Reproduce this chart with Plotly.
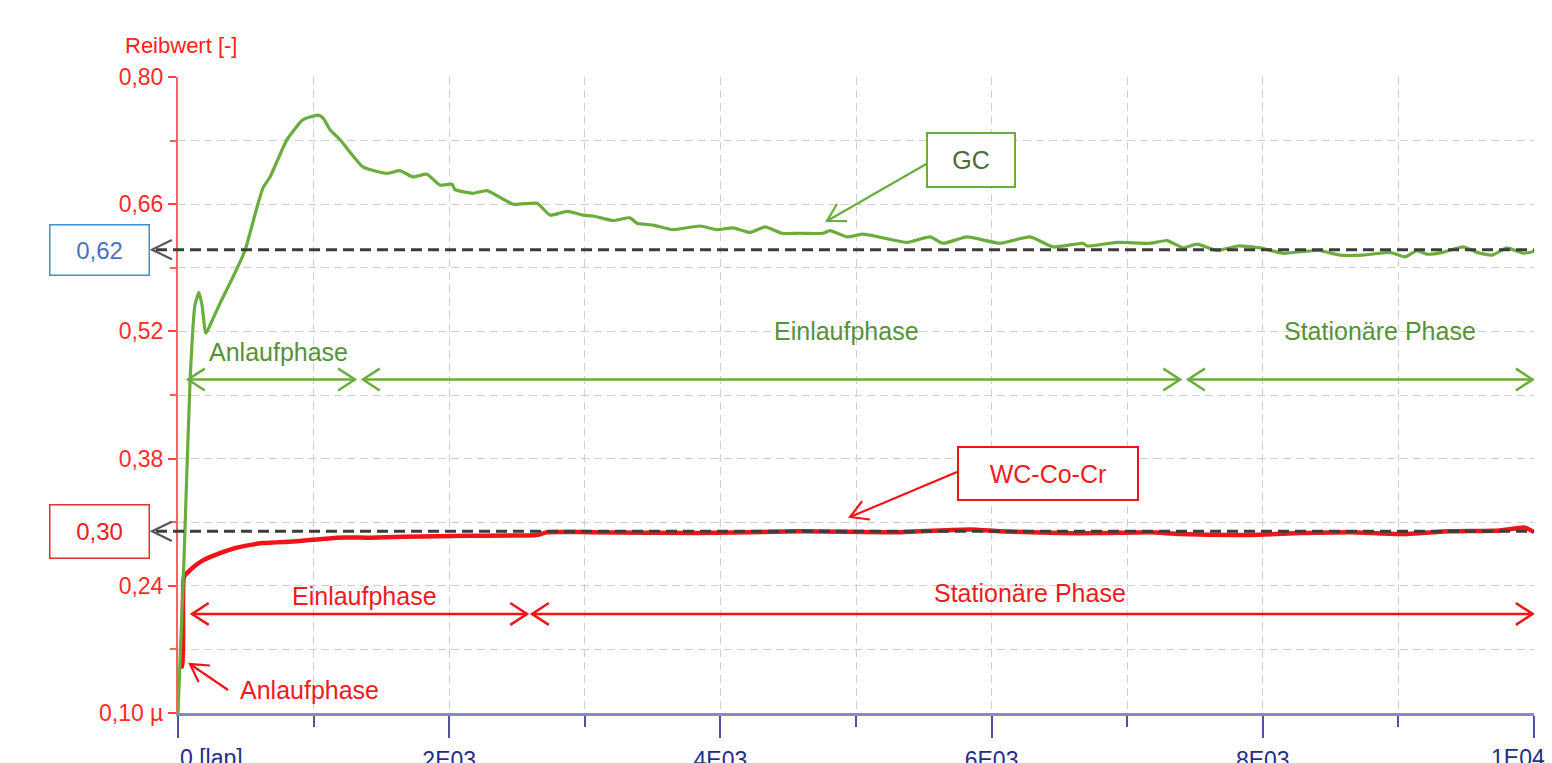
import math
import plotly.graph_objects as go

# ---------------- data ----------------
lap_gc = [0, 44, 89, 125, 155, 177, 206, 258, 310, 406,
          494, 583, 627, 679, 804, 922, 1033, 1069, 1121, 1195,
          1364, 1541, 1637, 1733, 1836, 1932, 2021, 2043, 2176, 2279,
          2471, 2648, 2744, 2869, 2987, 3061, 3208, 3334, 3385, 3503,
          3651, 3850, 3975, 4093, 4219, 4329, 4455, 4587, 4757, 4809,
          4934, 5052, 5199, 5376, 5546, 5642, 5819, 6062, 6284, 6453,
          6674, 6704, 6925, 7168, 7294, 7412, 7515, 7663, 7818, 7980,
          8149, 8297, 8422, 8570, 8739, 8938, 9049, 9137, 9211, 9329,
          9477, 9580, 9691, 9801, 9919, 10000]
mu_gc = [0.100, 0.268, 0.466, 0.549, 0.563, 0.549, 0.518, 0.534, 0.551, 0.580,
         0.609, 0.657, 0.678, 0.690, 0.731, 0.753, 0.758, 0.755, 0.742, 0.731,
         0.701, 0.694, 0.697, 0.690, 0.693, 0.681, 0.682, 0.676, 0.672, 0.675,
         0.660, 0.661, 0.648, 0.652, 0.648, 0.647, 0.642, 0.645, 0.639, 0.637,
         0.632, 0.636, 0.632, 0.634, 0.629, 0.635, 0.628, 0.628, 0.628, 0.631,
         0.624, 0.627, 0.623, 0.618, 0.624, 0.617, 0.624, 0.617, 0.624, 0.613,
         0.617, 0.614, 0.618, 0.617, 0.620, 0.612, 0.616, 0.609, 0.614, 0.612,
         0.606, 0.608, 0.609, 0.604, 0.604, 0.607, 0.602, 0.609, 0.605, 0.607,
         0.613, 0.607, 0.604, 0.612, 0.606, 0.608]

lap_wc = [10, 30, 37, 44, 74, 125, 184, 310, 435, 627,
          878, 1173, 1416, 1659, 2154, 2648, 2721, 3039, 3850, 4587,
          5325, 5841, 6062, 6505, 6800, 7168, 7390, 7906, 8275, 8643,
          9012, 9381, 9750, 9934, 10000]
mu_wc = [0.151, 0.151, 0.224, 0.250, 0.255, 0.262, 0.268, 0.276, 0.282, 0.287,
         0.289, 0.293, 0.293, 0.294, 0.295, 0.296, 0.299, 0.299, 0.298, 0.300,
         0.299, 0.302, 0.300, 0.298, 0.298, 0.299, 0.297, 0.296, 0.298, 0.299,
         0.297, 0.300, 0.301, 0.304, 0.299]

x_tickvals = [0, 2000, 4000, 6000, 8000, 10000]
x_ticktext = ["0 [lap]", "2E03", "4E03", "6E03", "8E03", "1E04"]
y_tickvals = [0.10, 0.24, 0.38, 0.52, 0.66, 0.80]
y_ticktext = ["0,10 µ", "0,24", "0,38", "0,52", "0,66", "0,80"]

ref_gc_pos, ref_gc_label = 0.61, "0,62"
ref_wc_pos, ref_wc_label = 0.30, "0,30"

# phase boundaries (laps)
gc_phases = [("Anlaufphase", 74, 1305), ("Einlaufphase", 1364, 7390), ("Stationäre Phase", 7449, 9990)]
wc_phases = [("Einlaufphase", 103, 2574), ("Stationäre Phase", 2611, 9990)]

# ---------------- geometry ----------------
W, H = 1552, 763
ML, MR, MT, MB = 178, 18, 77, 50
PW, PH = W - ML - MR, H - MT - MB
X0, X1 = 0, 10000
Y0, Y1 = 0.10, 0.80
SX = PW / (X1 - X0)
SY = PH / (Y1 - Y0)

GREEN = "#6aad3e"
GREEN_TXT = "#55923a"
RED = "#f01418"
RED_TXT = "#ee1c22"
GRID = "#cfcfcf"
NAVY = "#1f2d86"
FONT = "Liberation Sans, Arial, sans-serif"


def chevron(x, y, ux, uy, L=20, ang=33, paper=False):
    n = math.hypot(ux, uy)
    ux, uy = ux / n, uy / n
    pts = []
    for s in (1, -1):
        a = math.radians(ang * s)
        rx = ux * math.cos(a) - uy * math.sin(a)
        ry = ux * math.sin(a) + uy * math.cos(a)
        if paper:
            dx, dy = rx * L / PW, -ry * L / PH
        else:
            dx, dy = rx * L / SX, -ry * L / SY
        pts.append((x + dx, y + dy))
    return f"M{pts[0][0]},{pts[0][1]} L{x},{y} L{pts[1][0]},{pts[1][1]}"


shapes = []
annotations = []


def add_path(path, color, width, paper=False):
    shapes.append(dict(type="path", path=path, xref="paper" if paper else "x",
                       yref="paper" if paper else "y",
                       line=dict(color=color, width=width), layer="above"))


def double_arrow(xa, xb, y, color):
    shapes.append(dict(type="line", x0=xa, x1=xb, y0=y, y1=y, xref="x", yref="y",
                       line=dict(color=color, width=2.5), layer="above"))
    add_path(chevron(xa, y, 1, 0), color, 2.5)
    add_path(chevron(xb, y, -1, 0), color, 2.5)


def single_arrow(tail, tip, color):
    shapes.append(dict(type="line", x0=tail[0], y0=tail[1], x1=tip[0], y1=tip[1],
                       xref="x", yref="y", line=dict(color=color, width=2.2), layer="above"))
    ux = (tail[0] - tip[0]) * SX
    uy = -(tail[1] - tip[1]) * SY
    add_path(chevron(tip[0], tip[1], ux, uy, L=20, ang=30), color, 2.2)


# phase arrows
y_gc_ph = 0.467
y_wc_ph = 0.209
for _, a, b in gc_phases:
    double_arrow(a, b, y_gc_ph, GREEN)
for _, a, b in wc_phases:
    double_arrow(a, b, y_wc_ph, RED)

annotations += [
    dict(x=214, y=0.497, text="Anlaufphase", xanchor="left", font=dict(color=GREEN_TXT, size=25)),
    dict(x=4927, y=0.520, text="Einlaufphase", font=dict(color=GREEN_TXT, size=25)),
    dict(x=8865, y=0.520, text="Stationäre Phase", font=dict(color=GREEN_TXT, size=25)),
    dict(x=1372, y=0.2285, text="Einlaufphase", font=dict(color=RED_TXT, size=25)),
    dict(x=6283, y=0.2325, text="Stationäre Phase", font=dict(color=RED_TXT, size=25)),
    dict(x=440, y=0.125, text="Anlaufphase", xanchor="left", font=dict(color=RED_TXT, size=25)),
]
for a in annotations:
    a.update(xref="x", yref="y", showarrow=False, yanchor="middle")

# pointer arrows
single_arrow((369, 0.1253), (88, 0.1539), RED)
single_arrow((5531, 0.7053), (4786, 0.6415), GREEN)
single_arrow((5745, 0.3652), (4956, 0.3157), RED)

# label boxes
annotations.append(dict(x=5845, y=0.7086, xref="x", yref="y", text="GC", showarrow=False,
                        xanchor="center", yanchor="middle",
                        font=dict(color="#4c6a3a", size=25), bordercolor=GREEN, borderwidth=2,
                        borderpad=0, width=86, height=52, bgcolor="white"))
annotations.append(dict(x=6419, y=0.364, xref="x", yref="y", text="WC-Co-Cr", showarrow=False,
                        xanchor="center", yanchor="middle",
                        font=dict(color=RED_TXT, size=25), bordercolor=RED, borderwidth=2,
                        borderpad=0, width=178, height=51, bgcolor="white"))


def px_x(p):
    return (p - ML) / PW


def val_y(v):
    return (v - Y0) / (Y1 - Y0)


# reference lines with "<" arrows and value boxes
for pos, label, col, txtcol in [(ref_gc_pos, ref_gc_label, "#3b8fd4", "#4a70c0"),
                                (ref_wc_pos, ref_wc_label, "#e03030", RED_TXT)]:
    yp = val_y(pos)
    shapes.append(dict(type="line", xref="paper", yref="paper", x0=px_x(156), x1=1.0,
                       y0=yp, y1=yp, line=dict(color="#3c3c3c", width=3, dash="11px,6px"),
                       layer="above"))
    add_path(chevron(px_x(152), yp, 1, 0, L=22, ang=26, paper=True), "#555555", 2.2, paper=True)
    annotations.append(dict(x=px_x(99.5), y=yp, xref="paper", yref="paper", text=label,
                            xanchor="center", yanchor="middle",
                            showarrow=False, font=dict(color=txtcol, size=24),
                            bordercolor=col, borderwidth=1.5, borderpad=0,
                            width=98, height=49 if pos > 0.5 else 52, bgcolor="white"))

# axis title
annotations.append(dict(x=px_x(123), y=(H - MB - 45) / PH, xref="paper", yref="paper",
                        text="Reibwert [-]", xanchor="left", yanchor="middle", showarrow=False,
                        font=dict(color="#ff2020", size=22)))

# first and last x tick labels are drawn left/right aligned (as in the reference)
tick_y = (H - MB - 758) / PH
annotations.append(dict(x=x_tickvals[0], y=tick_y, xref="x", yref="paper", text=x_ticktext[0],
                        xanchor="left", yanchor="middle", showarrow=False,
                        font=dict(color=NAVY, size=23)))
annotations.append(dict(x=px_x(1547), y=tick_y, xref="paper", yref="paper", text=x_ticktext[-1],
                        xanchor="right", yanchor="middle", showarrow=False,
                        font=dict(color=NAVY, size=23)))
axis_ticktext = [""] + x_ticktext[1:-1] + [""]

fig = go.Figure()
fig.add_trace(go.Scatter(x=lap_wc, y=mu_wc, mode="lines", name="WC-Co-Cr",
                         line=dict(color=RED, width=4.5, shape="spline", smoothing=0.5)))
fig.add_trace(go.Scatter(x=lap_gc, y=mu_gc, mode="lines", name="GC",
                         line=dict(color=GREEN, width=3.2, shape="spline", smoothing=0.5)))

fig.update_layout(
    width=W, height=H,
    margin=dict(l=ML, r=MR, t=MT, b=MB, autoexpand=False),
    paper_bgcolor="white", plot_bgcolor="white",
    showlegend=False,
    font=dict(family=FONT),
    shapes=shapes,
    annotations=annotations,
    xaxis=dict(range=[X0, X1], showline=True, linecolor="#8888c4", linewidth=3,
               automargin=False,
               ticks="outside", ticklen=22, tickwidth=1.5, tickcolor="#5050a8",
               tickvals=x_tickvals, ticktext=axis_ticktext,
               tickfont=dict(color=NAVY, size=23), ticklabelstandoff=2,
               showgrid=True, gridcolor=GRID, gridwidth=1, griddash="8px,5px",
               zeroline=False,
               minor=dict(dtick=1000, tick0=0, ticks="outside", ticklen=11,
                          tickcolor="#5050a8", showgrid=True, gridcolor=GRID,
                          griddash="8px,5px")),
    yaxis=dict(range=[Y0, Y1], showline=True, linecolor="#ff6060", linewidth=2,
               automargin=False,
               ticks="outside", ticklen=8, tickwidth=1.5, tickcolor="#ff4040",
               tickvals=y_tickvals, ticktext=y_ticktext,
               tickfont=dict(color="#ff2a2a", size=23),
               showgrid=True, gridcolor=GRID, gridwidth=1, griddash="8px,5px",
               zeroline=False,
               minor=dict(dtick=0.07, tick0=0.10, ticks="outside", ticklen=6,
                          tickcolor="#ff6060", showgrid=True, gridcolor=GRID,
                          griddash="8px,5px")),
)

fig.write_html("out.html")
